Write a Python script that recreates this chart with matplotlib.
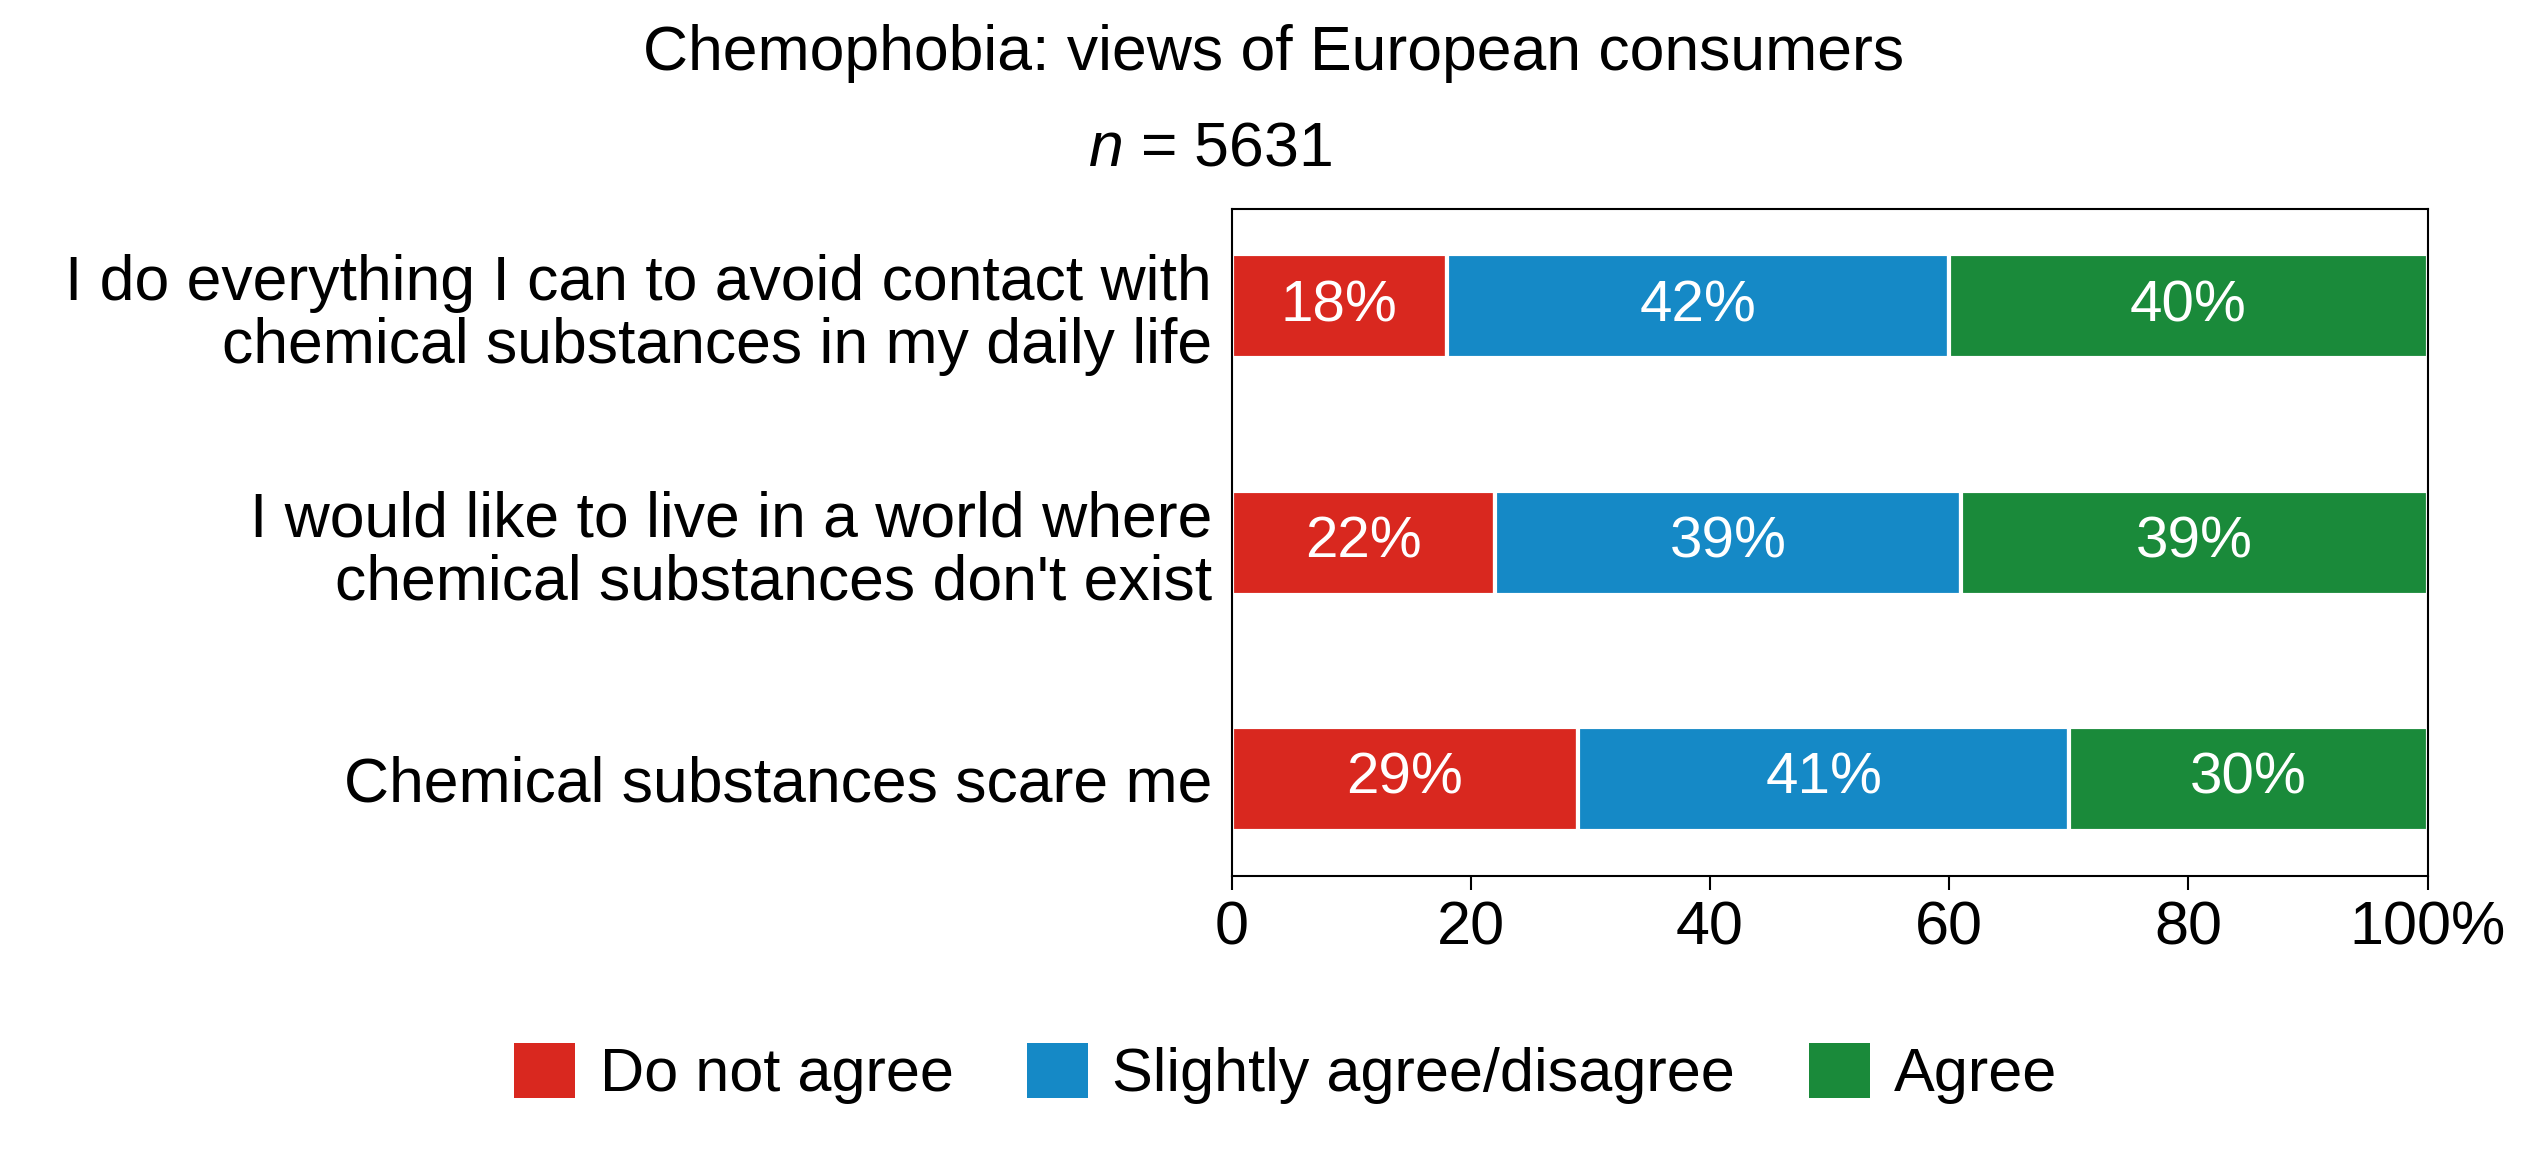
import matplotlib
matplotlib.use("Agg")
import matplotlib.pyplot as plt
from matplotlib.patches import Patch

plt.rcParams['font.family'] = 'Liberation Sans'
plt.rcParams['mathtext.fontset'] = 'custom'
plt.rcParams['mathtext.it'] = 'Liberation Sans:italic'
plt.rcParams['mathtext.rm'] = 'Liberation Sans'

categories = ["I do everything I can to avoid contact with\nchemical substances in my daily life",
              "I would like to live in a world where\nchemical substances don't exist",
              "Chemical substances scare me"]
series_names = ["Do not agree", "Slightly agree/disagree", "Agree"]
do_not_agree = [18, 22, 29]
slightly = [42, 39, 41]
agree = [40, 39, 30]
colors = ["#d9281f", "#1589c6", "#1a8a3a"]
xticks = [0, 20, 40, 60, 80, 100]
xticklabels = ["0", "20", "40", "60", "80", "100%"]

fig = plt.figure(figsize=(25.21, 11.57), dpi=100)
ax = fig.add_axes([0.4885, 0.243, 0.4745, 0.576])
ypos = [2, 1, 0]
left = [0, 0, 0]
for vals, c in zip([do_not_agree, slightly, agree], colors):
    ax.barh(ypos, vals, left=left, height=0.44, color=c, edgecolor='white', linewidth=3)
    for y, v, l in zip(ypos, vals, left):
        ax.text(l + v / 2, y, f"{v}%", ha='center', va='center', color='white', fontsize=42)
    left = [a + b for a, b in zip(left, vals)]
ax.set_xlim(0, 100)
ax.set_ylim(-0.41, 2.41)
ax.set_yticks(ypos)
ax.set_yticklabels(categories, fontsize=45, linespacing=1.1)
ax.tick_params(axis='y', length=0, pad=14)
ax.set_xticks(xticks)
ax.set_xticklabels(xticklabels, fontsize=44)
ax.tick_params(axis='x', length=10, width=1.5, direction='out', pad=8)
for s in ax.spines.values():
    s.set_linewidth(1.5)

fig.text(0.505, 0.954, "Chemophobia: views of European consumers", ha='center', va='center', fontsize=45)
fig.text(0.48, 0.871, "$n$ = 5631", ha='center', va='center', fontsize=45)
handles = [Patch(facecolor=c, label=n) for c, n in zip(colors, series_names)]
fig.legend(handles=handles, loc='center', bbox_to_anchor=(0.51, 0.072), ncol=3, frameon=False,
           fontsize=44, handlelength=1.0, handleheight=1.0, columnspacing=1.2, handletextpad=0.4)
fig.savefig("out.png", dpi=100)
